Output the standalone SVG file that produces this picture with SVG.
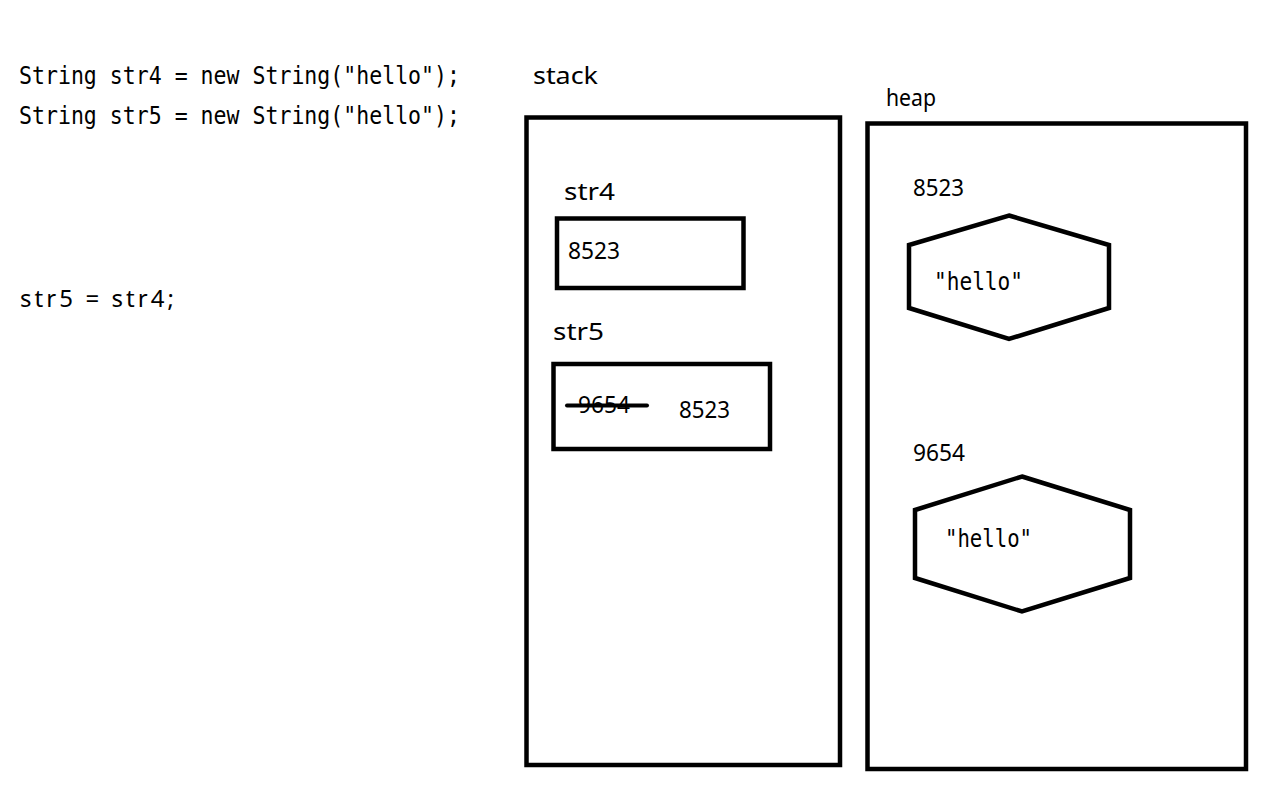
<svg xmlns="http://www.w3.org/2000/svg" width="1265" height="799" viewBox="0 0 1265 799">
<style>
.code{font-family:"DejaVu Sans Mono","Liberation Mono",monospace;font-size:25px;fill:#000}
.lbl{font-family:"Noto Sans","Noto Sans CJK KR",sans-serif;font-size:24px;fill:#000}
.box{fill:none;stroke:#000;stroke-width:4.5}
</style>
<rect width="1265" height="799" fill="#fff"/>
<g id="code">
<text class="code" x="19" y="84" textLength="441" lengthAdjust="spacingAndGlyphs">String str4 = new String("hello");</text>
<text class="code" x="19" y="124" textLength="441" lengthAdjust="spacingAndGlyphs">String str5 = new String("hello");</text>
<text class="lbl" x="20" y="307" textLength="154" lengthAdjust="spacing">str5 = str4;</text>
</g>
<g id="stack">
<text class="lbl" x="533" y="84" textLength="65" lengthAdjust="spacingAndGlyphs">stack</text>
<rect class="box" x="526.5" y="117.5" width="313.5" height="647.5"/>
</g>
<g id="str4">
<text class="lbl" x="564" y="200" textLength="51" lengthAdjust="spacingAndGlyphs">str4</text>
<rect class="box" x="557" y="218.5" width="186.5" height="69.5"/>
<text class="lbl" x="568" y="259" textLength="52" lengthAdjust="spacingAndGlyphs">8523</text>
</g>
<g id="str5">
<text class="lbl" x="553" y="340" textLength="51" lengthAdjust="spacingAndGlyphs">str5</text>
<rect class="box" x="553.5" y="364" width="216.5" height="85"/>
<text class="lbl" x="578" y="413" textLength="52" lengthAdjust="spacingAndGlyphs">9654</text>
<line x1="567" y1="405.5" x2="647" y2="405.5" stroke="#000" stroke-width="4" stroke-linecap="round"/>
<text class="lbl" x="679" y="418" textLength="51" lengthAdjust="spacingAndGlyphs">8523</text>
</g>
<g id="heap">
<text class="lbl" x="886" y="106" textLength="50" lengthAdjust="spacingAndGlyphs">heap</text>
<rect class="box" x="867.5" y="123.5" width="378.5" height="645.5"/>
</g>
<g id="obj8523">
<text class="lbl" x="913" y="196" textLength="51" lengthAdjust="spacingAndGlyphs">8523</text>
<polygon class="box" points="1009,215.5 1109,245 1109,308 1009,339 909,308 909,245"/>
<text class="code" x="934" y="290" textLength="89" lengthAdjust="spacingAndGlyphs">"hello"</text>
</g>
<g id="obj9654">
<text class="lbl" x="913" y="461" textLength="52" lengthAdjust="spacingAndGlyphs">9654</text>
<polygon class="box" points="1022,476.5 1130,510 1130,578 1022,611.5 915,578 915,510"/>
<text class="code" x="945" y="547" textLength="87" lengthAdjust="spacingAndGlyphs">"hello"</text>
</g>
<g id="connectors"/>
</svg>
